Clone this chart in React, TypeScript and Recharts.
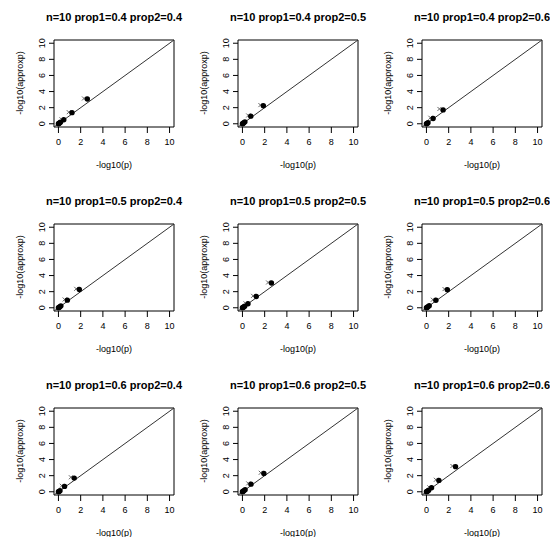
import { ReferenceArea, ReferenceLine, Scatter, ScatterChart, XAxis, YAxis } from 'recharts'

interface Pt {
  p: number
  a: number
}

// exact -log10(p) vs -log10(approx p), one set per panel
const dots44: Pt[] = [{ p: 0, a: 0 }, { p: 0.04, a: 0.04 }, { p: 0.1, a: 0.1 }, { p: 0.18, a: 0.2 }, { p: 0.48, a: 0.5 }, { p: 1.22, a: 1.38 }, { p: 2.6, a: 3.08 }]
const cross44: Pt[] = [{ p: 0.28, a: 0.55 }, { p: 0.93, a: 1.44 }, { p: 2.3, a: 3.14 }]
const dots45: Pt[] = [{ p: 0, a: 0 }, { p: 0.05, a: 0.04 }, { p: 0.12, a: 0.12 }, { p: 0.22, a: 0.24 }, { p: 0.75, a: 0.95 }, { p: 1.88, a: 2.25 }]
const cross45: Pt[] = [{ p: 0.52, a: 1.03 }, { p: 1.62, a: 2.32 }]
const dots46: Pt[] = [{ p: 0, a: 0 }, { p: 0.06, a: 0.04 }, { p: 0.14, a: 0.14 }, { p: 0.6, a: 0.66 }, { p: 1.5, a: 1.72 }]
const cross46: Pt[] = [{ p: 0.35, a: 0.75 }, { p: 1.17, a: 1.84 }]
const dots54: Pt[] = [{ p: 0, a: 0 }, { p: 0.05, a: 0.05 }, { p: 0.13, a: 0.14 }, { p: 0.22, a: 0.24 }, { p: 0.8, a: 0.95 }, { p: 1.88, a: 2.27 }]
const cross54: Pt[] = [{ p: 0.56, a: 1.03 }, { p: 1.6, a: 2.35 }]
const dots55: Pt[] = [{ p: 0, a: 0 }, { p: 0.05, a: 0.05 }, { p: 0.11, a: 0.1 }, { p: 0.2, a: 0.2 }, { p: 0.5, a: 0.5 }, { p: 1.24, a: 1.4 }, { p: 2.61, a: 3.08 }]
const cross55: Pt[] = [{ p: 0.28, a: 0.55 }, { p: 0.96, a: 1.48 }, { p: 2.31, a: 3.14 }]
const dots56: Pt[] = [{ p: 0, a: 0 }, { p: 0.06, a: 0.05 }, { p: 0.13, a: 0.12 }, { p: 0.25, a: 0.25 }, { p: 0.85, a: 0.93 }, { p: 1.88, a: 2.25 }]
const cross56: Pt[] = [{ p: 0.58, a: 1.0 }, { p: 1.63, a: 2.32 }]
const dots64: Pt[] = [{ p: 0, a: 0 }, { p: 0.05, a: 0.04 }, { p: 0.14, a: 0.13 }, { p: 0.55, a: 0.67 }, { p: 1.42, a: 1.7 }]
const cross64: Pt[] = [{ p: 0.3, a: 0.75 }, { p: 1.12, a: 1.8 }]
const dots65: Pt[] = [{ p: 0, a: 0 }, { p: 0.05, a: 0.05 }, { p: 0.12, a: 0.12 }, { p: 0.24, a: 0.26 }, { p: 0.77, a: 0.95 }, { p: 1.93, a: 2.28 }]
const cross65: Pt[] = [{ p: 0.52, a: 1.04 }, { p: 1.65, a: 2.36 }]
const dots66: Pt[] = [{ p: 0, a: 0 }, { p: 0.05, a: 0.05 }, { p: 0.12, a: 0.1 }, { p: 0.2, a: 0.2 }, { p: 0.46, a: 0.5 }, { p: 1.12, a: 1.41 }, { p: 2.62, a: 3.12 }]
const cross66: Pt[] = [{ p: 0.26, a: 0.55 }, { p: 0.85, a: 1.49 }, { p: 2.34, a: 3.2 }]

const titles = [
  'n=10 prop1=0.4 prop2=0.4', 'n=10 prop1=0.4 prop2=0.5', 'n=10 prop1=0.4 prop2=0.6',
  'n=10 prop1=0.5 prop2=0.4', 'n=10 prop1=0.5 prop2=0.5', 'n=10 prop1=0.5 prop2=0.6',
  'n=10 prop1=0.6 prop2=0.4', 'n=10 prop1=0.6 prop2=0.5', 'n=10 prop1=0.6 prop2=0.6',
]
const allDots = [dots44, dots45, dots46, dots54, dots55, dots56, dots64, dots65, dots66]
const allCross = [cross44, cross45, cross46, cross54, cross55, cross56, cross64, cross65, cross66]
const ticks = [0, 2, 4, 6, 8, 10]

const FONT = '"Liberation Sans", Arial, sans-serif'
const SIZE = 184

const XTick = (props: any) => (
  <text x={props.x} y={props.y + 7} textAnchor="middle" dominantBaseline="central" fontSize={9} fill="#000" fontFamily={FONT}>
    {props.payload.value}
  </text>
)

const YTick = (props: any) => (
  <text x={props.x - 5} y={props.y} textAnchor="middle" dominantBaseline="central" fontSize={9} fill="#000" fontFamily={FONT}
    transform={`rotate(-90, ${props.x - 5}, ${props.y})`}>
    {props.payload.value}
  </text>
)

const Dot = (props: any) => <circle cx={props.cx} cy={props.cy} r={2.7} fill="#000" />

const Cross = (props: any) => (
  <g stroke="#666" strokeWidth={1}>
    <line x1={props.cx - 2} y1={props.cy - 2} x2={props.cx + 2} y2={props.cy + 2} />
    <line x1={props.cx - 2} y1={props.cy + 2} x2={props.cx + 2} y2={props.cy - 2} />
  </g>
)

const Panel = ({ idx }: { idx: number }) => {
  const col = idx % 3
  const row = Math.floor(idx / 3)
  return (
    <div style={{ position: 'absolute', left: col * SIZE, top: row * SIZE, width: SIZE, height: SIZE }}>
      <div style={{ position: 'absolute', left: 14, width: 200, top: 10, textAlign: 'center', fontWeight: 'bold', fontSize: 11, fontFamily: FONT, lineHeight: '14px', whiteSpace: 'nowrap' }}>
        {titles[idx]}
      </div>
      <ScatterChart width={SIZE} height={SIZE} margin={{ top: 40, right: 10, bottom: 0, left: 0 }}>
        <XAxis type="number" dataKey="p" domain={[-0.4, 10.4]} ticks={ticks} interval={0} allowDataOverflow axisLine={false}
          tickLine={{ stroke: '#000' }} tickSize={6} tickMargin={2} height={57} tick={<XTick />} />
        <YAxis type="number" dataKey="a" domain={[-0.4, 10.4]} ticks={ticks} interval={0} allowDataOverflow axisLine={false}
          tickLine={{ stroke: '#000' }} tickSize={5} tickMargin={2} width={54} tick={<YTick />} />
        <ReferenceArea x1={-0.4} x2={10.4} y1={-0.4} y2={10.4} fill="none" stroke="#000" strokeWidth={1} ifOverflow="visible" />
        <ReferenceLine segment={[{ x: -0.4, y: -0.4 }, { x: 10.4, y: 10.4 }]} stroke="#333" strokeWidth={1} />
        <Scatter data={allCross[idx]} shape={<Cross />} isAnimationActive={false} />
        <Scatter data={allDots[idx]} shape={<Dot />} isAnimationActive={false} />
      </ScatterChart>
      <div style={{ position: 'absolute', left: 54, width: 120, top: 159, textAlign: 'center', fontSize: 9, fontFamily: FONT, lineHeight: '12px' }}>
        -log10(p)
      </div>
      <div style={{ position: 'absolute', left: 20, top: 83, width: 0, height: 0 }}>
        <div style={{ position: 'absolute', left: -60, top: -6, width: 120, textAlign: 'center', fontSize: 9, fontFamily: FONT, lineHeight: '12px', transform: 'rotate(-90deg)', whiteSpace: 'nowrap' }}>
          -log10(approxp)
        </div>
      </div>
    </div>
  )
}

export default function App() {
  return (
    <div style={{ position: 'absolute', left: 0, top: 0, width: 550, height: 537, overflow: 'hidden', background: '#fff' }}>
      {titles.map((_, i) => <Panel key={i} idx={i} />)}
    </div>
  )
}
